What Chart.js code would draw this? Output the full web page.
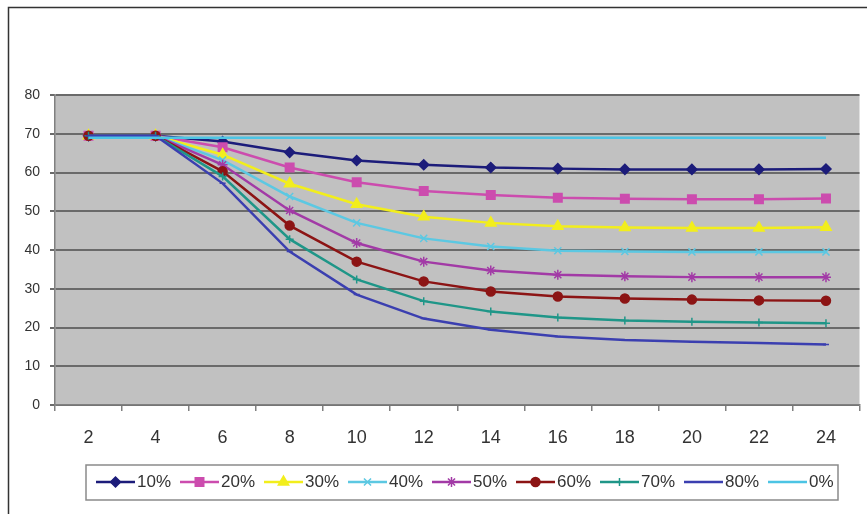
<!DOCTYPE html>
<html>
<head>
    <title>Decline curves</title>
    <script src="https://cdn.jsdelivr.net/npm/chart.js"></script>
    <style>
        body { margin: 0; background: #fff; }
        #chart { display: block; }
    </style>
</head>
<body>
    <canvas id="chart" width="867" height="514"></canvas>

    <script>
        // x categories
        const labels = ['2', '4', '6', '8', '10', '12', '14', '16', '18', '20', '22', '24'];
        const yTicks = [0, 10, 20, 30, 40, 50, 60, 70, 80];

        // values
        const s10 = [69.5, 69.5, 68.0, 65.2, 63.1, 62.0, 61.3, 61.0, 60.8, 60.8, 60.8, 60.9];
        const s20 = [69.5, 69.5, 66.5, 61.3, 57.5, 55.2, 54.2, 53.5, 53.2, 53.1, 53.1, 53.3];
        const s30 = [69.5, 69.5, 64.6, 57.1, 51.8, 48.6, 47.0, 46.1, 45.8, 45.7, 45.7, 45.9];
        const s40 = [69.5, 69.5, 63.2, 53.8, 47.0, 43.0, 40.9, 39.8, 39.6, 39.5, 39.5, 39.5];
        const s50 = [69.5, 69.5, 62.0, 50.2, 41.8, 37.0, 34.7, 33.6, 33.2, 33.0, 33.0, 33.0];
        const s60 = [69.5, 69.5, 60.3, 46.3, 37.0, 31.9, 29.3, 28.0, 27.5, 27.2, 27.0, 26.9];
        const s70 = [69.5, 69.5, 59.0, 42.8, 32.4, 26.8, 24.1, 22.6, 21.8, 21.5, 21.3, 21.1];
        const s80 = [69.5, 69.5, 57.2, 39.6, 28.5, 22.3, 19.4, 17.7, 16.8, 16.3, 16.0, 15.6];
        const s0 = [69.0, 69.0, 69.0, 69.0, 69.0, 69.0, 69.0, 69.0, 69.0, 69.0, 69.0, 69.0];

        const seriesNames = ['10%', '20%', '30%', '40%', '50%', '60%', '70%', '80%', '0%'];
        const seriesData = [s10, s20, s30, s40, s50, s60, s70, s80, s0];

        const colors = ['#1c1c7a', '#cc4cae', '#f2ee1c', '#5cc8e2', '#a23aa6', '#8c1414', '#1f9688', '#3b3fb0', '#4cc4e4'];
        const styles = ['rectRot', 'rect', 'triangle', 'crossRot', 'star', 'circle', 'cross', 'line', 'line'];
        const radii = [5, 6, 6, 5, 5, 4.5, 4, 3, 0];

        const datasets = seriesNames.map((name, i) => ({
            label: name,
            data: seriesData[i],
            borderColor: colors[i],
            backgroundColor: colors[i],
            borderWidth: 2.5,
            pointStyle: styles[i],
            pointRadius: radii[i],
            pointBorderWidth: 1.5,
            pointBorderColor: colors[i],
            pointBackgroundColor: colors[i],
            tension: 0,
            order: 9 - i
        }));

        const bgPlugin = {
            id: 'bg',
            beforeDraw(chart) {
                const ctx = chart.ctx;
                const a = chart.chartArea;
                ctx.save();
                ctx.fillStyle = '#ffffff';
                ctx.fillRect(0, 0, chart.width, chart.height);
                ctx.fillStyle = '#c1c1c1';
                ctx.fillRect(a.left, a.top, a.right - a.left, a.bottom - a.top);
                // outer frame
                ctx.strokeStyle = '#333';
                ctx.lineWidth = 1.5;
                ctx.beginPath();
                ctx.moveTo(8.5, chart.height);
                ctx.lineTo(8.5, 7.5);
                ctx.lineTo(chart.width, 7.5);
                ctx.stroke();
                ctx.restore();
            }
        };

        // legend drawn as line + marker like the original
        const legendPlugin = {
            id: 'boxLegend',
            afterDraw(chart) {
                const ctx = chart.ctx;
                ctx.save();
                ctx.strokeStyle = '#8a8a8a';
                ctx.lineWidth = 1.5;
                ctx.strokeRect(86, 465, 752, 35);
                ctx.font = '17px "Liberation Sans", Arial, sans-serif';
                ctx.textBaseline = 'middle';
                const y = 482;
                let x = 96;
                chart.data.datasets.forEach(ds => {
                    ctx.strokeStyle = ds.borderColor;
                    ctx.lineWidth = 2.5;
                    ctx.beginPath();
                    ctx.moveTo(x, y);
                    ctx.lineTo(x + 39, y);
                    ctx.stroke();
                    if (ds.pointRadius > 0) {
                        ctx.fillStyle = ds.pointBackgroundColor;
                        ctx.strokeStyle = ds.pointBorderColor;
                        ctx.lineWidth = 1.5;
                        Chart.helpers.drawPoint(ctx, {
                            pointStyle: ds.pointStyle,
                            radius: ds.pointRadius,
                            rotation: 0,
                            borderWidth: 1.5
                        }, x + 19.5, y);
                    }
                    ctx.fillStyle = '#333';
                    ctx.fillText(ds.label, x + 41, y);
                    x += 84;
                });
                ctx.restore();
            }
        };

        const ctx = document.getElementById('chart').getContext('2d');
        const chart = new Chart(ctx, {
            type: 'line',
            data: { labels: labels, datasets: datasets },
            options: {
                responsive: false,
                animation: false,
                layout: { padding: { top: 95, left: 0, right: 4, bottom: 59 } },
                plugins: {
                    legend: { display: false },
                    tooltip: { enabled: false }
                },
                scales: {
                    x: {
                        offset: true,
                        grid: {
                            offset: true,
                            drawOnChartArea: false,
                            drawTicks: true,
                            tickLength: 6,
                            color: '#808080',
                            lineWidth: 1.5
                        },
                        border: { color: '#808080', width: 1.5 },
                        ticks: {
                            color: '#333',
                            padding: 16,
                            maxRotation: 0,
                            font: { family: '"Liberation Sans", Arial, sans-serif', size: 18 }
                        },
                        afterFit(scale) { scale.height = 50; }
                    },
                    y: {
                        min: 0,
                        max: 80,
                        afterBuildTicks(scale) {
                            scale.ticks = yTicks.map(v => ({ value: v }));
                        },
                        grid: {
                            color: '#6a6a6a',
                            lineWidth: 2,
                            tickLength: 5
                        },
                        border: { color: '#808080', width: 1.5 },
                        ticks: {
                            color: '#333',
                            padding: 10,
                            font: { family: '"Liberation Sans", Arial, sans-serif', size: 14 }
                        },
                        afterFit(scale) { scale.width = 55; }
                    }
                }
            },
            plugins: [bgPlugin, legendPlugin]
        });
    </script>
</body>
</html>
